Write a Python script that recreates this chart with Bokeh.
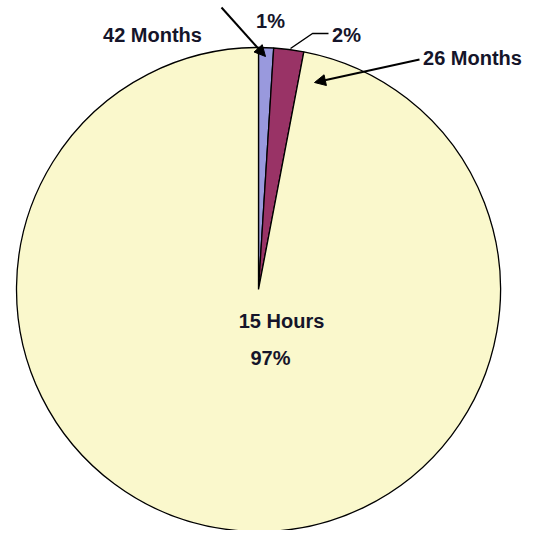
import math
from bokeh.plotting import figure
from bokeh.models import Range1d, Arrow, NormalHead, ColumnDataSource
from bokeh.core.properties import value
from bokeh.embed import file_html
from bokeh.resources import INLINE

# data
categories = ["42 Months", "26 Months", "15 Hours"]
shares = [1, 2, 97]
pct_labels = ["1%", "2%", "97%"]
colors = ["#9999DD", "#993366", "#FAF8CC"]

W, H = 526, 530
p = figure(width=W, height=H, output_backend="svg", toolbar_location=None,
           x_range=Range1d(0, W), y_range=Range1d(0, H), min_border=0,
           outline_line_color=None)
p.axis.visible = False
p.grid.visible = False
p.background_fill_color = "white"
p.border_fill_color = "white"

def px(X, Y):
    # picture coords -> data coords
    return X, H - Y

cx, cy = px(258, 289)
R = 242

total = sum(shares)
starts, ends = [], []
cum = 0.0
for s in shares:
    starts.append(math.pi / 2 - 2 * math.pi * cum / total)
    cum += s
    ends.append(math.pi / 2 - 2 * math.pi * cum / total)

src = ColumnDataSource(dict(start=starts, end=ends, color=colors, cat=categories))
p.wedge(x=cx, y=cy, radius=R, start_angle="start", end_angle="end",
        direction="clock", fill_color="color", line_color="black", line_width=1.3,
        source=src)

font = value("Liberation Sans")
tcol = "#15152a"
labels = [
    (categories[0], 152, 34),
    (pct_labels[0], 270, 20),
    (pct_labels[1], 346, 34),
    (categories[1], 472, 57),
    (categories[2], 281, 320),
    (pct_labels[2], 270, 357),
]
lx = [px(a, b)[0] for _, a, b in labels]
ly = [px(a, b)[1] for _, a, b in labels]
p.text(x=lx, y=ly, text=[t for t, _, _ in labels], text_font=font,
       text_font_size="20px", text_font_style="bold", text_color=tcol,
       text_align="center", text_baseline="middle")

# arrows
for (x0, y0), (x1, y1) in [((221, 7), (265, 56)), ((419, 59), (314, 82))]:
    a0 = px(x0, y0); a1 = px(x1, y1)
    p.add_layout(Arrow(end=NormalHead(size=11, fill_color="black", line_color="black"),
                       x_start=a0[0], y_start=a0[1], x_end=a1[0], y_end=a1[1],
                       line_color="black", line_width=2))

# leader for 2%
pts = [px(290, 48), px(312, 33), px(328, 33)]
p.line(x=[q[0] for q in pts], y=[q[1] for q in pts], line_color="black", line_width=1.5)

open("out.html", "w").write(file_html(p, INLINE))
